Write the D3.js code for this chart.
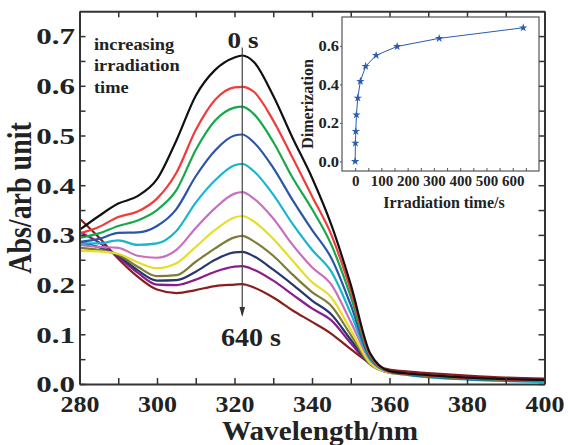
<!DOCTYPE html>
<html>
<head>
<meta charset="utf-8">
<script src="https://cdn.jsdelivr.net/npm/d3@7"></script>
<style>
  body { margin: 0; background: #fff; }
  text { font-family: "Liberation Serif", "Times New Roman", serif; font-weight: bold; fill: #222; }
</style>
</head>
<body>
<svg id="chart" width="568" height="445"></svg>
<script>
// wavelengths (nm) at which the spectra were read
const wavelengths = [280, 285, 290, 295, 300, 305, 310, 315, 320, 322, 325, 330, 335, 340, 345, 350, 355, 360, 365, 370, 380, 390, 400];

// absorbance for each irradiation time
const abs0s   = [0.310, 0.338, 0.363, 0.378, 0.412, 0.490, 0.580, 0.632, 0.657, 0.661, 0.648, 0.580, 0.495, 0.415, 0.320, 0.200, 0.062, 0.026, 0.021, 0.018, 0.013, 0.010, 0.008];
const abs1s   = [0.303, 0.316, 0.336, 0.347, 0.373, 0.425, 0.511, 0.572, 0.597, 0.598, 0.588, 0.530, 0.455, 0.378, 0.300, 0.189, 0.058, 0.025, 0.020, 0.017, 0.012, 0.009, 0.007];
const abs2_5s = [0.294, 0.303, 0.318, 0.329, 0.350, 0.390, 0.471, 0.530, 0.556, 0.558, 0.543, 0.487, 0.415, 0.352, 0.280, 0.176, 0.055, 0.025, 0.020, 0.016, 0.011, 0.008, 0.006];
const abs5s   = [0.286, 0.292, 0.304, 0.305, 0.318, 0.352, 0.418, 0.470, 0.500, 0.502, 0.486, 0.435, 0.370, 0.310, 0.253, 0.159, 0.052, 0.025, 0.019, 0.015, 0.010, 0.007, 0.006];
const abs10s  = [0.283, 0.283, 0.289, 0.280, 0.283, 0.308, 0.365, 0.410, 0.440, 0.443, 0.428, 0.381, 0.322, 0.270, 0.226, 0.142, 0.050, 0.024, 0.018, 0.014, 0.009, 0.006, 0.004];
const abs20s  = [0.280, 0.276, 0.274, 0.258, 0.254, 0.270, 0.314, 0.354, 0.383, 0.386, 0.373, 0.333, 0.280, 0.235, 0.200, 0.125, 0.048, 0.024, 0.019, 0.015, 0.010, 0.007, 0.005];
const abs40s  = [0.268, 0.267, 0.262, 0.245, 0.233, 0.243, 0.276, 0.310, 0.335, 0.338, 0.327, 0.292, 0.248, 0.205, 0.174, 0.109, 0.042, 0.023, 0.018, 0.014, 0.010, 0.008, 0.006];
const abs80s  = [0.274, 0.270, 0.260, 0.236, 0.217, 0.219, 0.246, 0.273, 0.295, 0.298, 0.287, 0.258, 0.220, 0.185, 0.157, 0.099, 0.040, 0.023, 0.019, 0.015, 0.011, 0.008, 0.007];
const abs160s = [0.285, 0.275, 0.258, 0.229, 0.208, 0.209, 0.226, 0.250, 0.265, 0.266, 0.257, 0.230, 0.200, 0.168, 0.140, 0.089, 0.040, 0.023, 0.019, 0.016, 0.011, 0.008, 0.007];
const abs320s = [0.306, 0.285, 0.256, 0.224, 0.200, 0.199, 0.210, 0.226, 0.236, 0.237, 0.230, 0.208, 0.180, 0.152, 0.128, 0.082, 0.040, 0.025, 0.020, 0.017, 0.013, 0.010, 0.008];
const abs640s = [0.333, 0.295, 0.252, 0.216, 0.190, 0.183, 0.189, 0.197, 0.200, 0.201, 0.194, 0.174, 0.148, 0.125, 0.101, 0.070, 0.042, 0.029, 0.025, 0.022, 0.017, 0.013, 0.011];

const spectra = [abs0s, abs1s, abs2_5s, abs5s, abs10s, abs20s, abs40s, abs80s, abs160s, abs320s, abs640s];
const colors = ["#111111", "#f23c3c", "#16a84a", "#2b55a8", "#16b6cb", "#c86fbf", "#e6df2a", "#7d7d38", "#27366e", "#8c1c8c", "#8a1e1e"];

// inset: dimerization vs irradiation time
const times = [0, 1, 2.5, 5, 10, 20, 40, 80, 160, 320, 640];
const dimerization = [0, 0.095, 0.156, 0.242, 0.329, 0.416, 0.494, 0.551, 0.597, 0.639, 0.694];

const xTicks = [280, 300, 320, 340, 360, 380, 400];
const yTicks = [0, 0.1, 0.2, 0.3, 0.4, 0.5, 0.6, 0.7];

const svg = d3.select('#chart');
const frameColor = "#333";

// ---- main plot ----
const x = d3.scaleLinear().domain([280, 400]).range([79.5, 544.5]);
const y = d3.scaleLinear().domain([0, 0.75]).range([384, 11.25]);

svg.append("defs").append("clipPath").attr("id", "clip")
    .append("rect").attr("x", x(280)).attr("y", y(0.75))
    .attr("width", x(400) - x(280)).attr("height", y(0) - y(0.75));

const line = d3.line()
    .x((d, i) => x(wavelengths[i]))
    .y(d => y(d))
    .curve(d3.curveMonotoneX);

const curves = svg.append("g").attr("clip-path", "url(#clip)");
// draw last series first so the 0 s curve sits on top
for (let k = spectra.length - 1; k >= 0; k--) {
    curves.append("path")
        .attr("d", line(spectra[k]))
        .attr("fill", "none")
        .attr("stroke", colors[k])
        .attr("stroke-width", 2.2)
        .attr("stroke-linejoin", "round");
}

// axes with inward ticks on all four sides
const minorX = d3.range(280, 401, 10);
const minorY = d3.range(0, 0.751, 0.05);

function styleAxis(g) {
    g.select(".domain").attr("stroke", frameColor).attr("stroke-width", 2);
    g.selectAll(".tick line").attr("stroke", frameColor).attr("stroke-width", 1.5);
}

const axBottom = svg.append("g").attr("transform", "translate(0," + y(0) + ")")
    .call(d3.axisBottom(x).tickValues(minorX).tickSize(-6).tickSizeOuter(0)
        .tickFormat(d => xTicks.includes(d) ? d : ""));
styleAxis(axBottom);
axBottom.selectAll(".tick text")
    .attr("y", 28).attr("dy", 0)
    .attr("transform", "scale(1.13,1)")
    .style("font-size", "23px").attr("fill", "#222");

const axTop = svg.append("g").attr("transform", "translate(0," + y(0.75) + ")")
    .call(d3.axisTop(x).tickValues(minorX).tickSize(-6).tickSizeOuter(0).tickFormat(""));
styleAxis(axTop);

const axLeft = svg.append("g").attr("transform", "translate(" + x(280) + ",0)")
    .call(d3.axisLeft(y).tickValues(minorY.slice(0, -1)).tickSize(-6).tickSizeOuter(0)
        .tickFormat(d => yTicks.some(t => Math.abs(t - d) < 1e-6) ? d3.format(".1f")(d) : ""));
styleAxis(axLeft);
axLeft.selectAll(".tick text")
    .attr("x", 0).attr("dy", "0.34em")
    .attr("transform", "translate(-4.5,0) scale(1.35,1)")
    .style("font-size", "23px").attr("fill", "#222");

const axRight = svg.append("g").attr("transform", "translate(" + x(400) + ",0)")
    .call(d3.axisRight(y).tickValues(minorY.slice(0, -1)).tickSize(-6).tickSizeOuter(0).tickFormat(""));
styleAxis(axRight);

svg.selectAll(".tick text").style("font-family", "'Liberation Serif', 'Times New Roman', serif").style("font-weight", "bold");

// axis titles
svg.append("text")
    .attr("transform", "translate(" + ((x(280) + x(400)) / 2 + 8) + ",440) scale(1.08,1)")
    .attr("text-anchor", "middle")
    .style("font-size", "27px")
    .text("Wavelength/nm");

svg.append("text")
    .attr("transform", "translate(31,198) rotate(-90) scale(1,1.18)")
    .attr("text-anchor", "middle")
    .style("font-size", "28px")
    .text("Abs/arb unit");

// arrow and annotations
const ax = x(322);
svg.append("line")
    .attr("x1", ax).attr("x2", ax)
    .attr("y1", y(0.677)).attr("y2", y(0.14))
    .attr("stroke", "#444").attr("stroke-width", 1.2);
const tipY = y(0.135);
svg.append("path")
    .attr("d", "M" + ax + "," + tipY + " L" + (ax - 2.8) + "," + (tipY - 10) + " L" + (ax + 2.8) + "," + (tipY - 10) + " Z")
    .attr("fill", "#333");

svg.append("text")
    .attr("transform", "translate(243,48) scale(1.13,1)")
    .attr("text-anchor", "middle")
    .style("font-size", "24px")
    .text("0 s");

svg.append("text")
    .attr("transform", "translate(251,346) scale(1.08,1)")
    .attr("text-anchor", "middle")
    .style("font-size", "26px")
    .text("640 s");

const note = svg.append("text").style("font-size", "17px")
    .attr("transform", "translate(94,0) scale(1.08,1)");
["increasing", "irradiation", "time"].forEach((t, i) => {
    note.append("tspan").attr("x", 0).attr("y", 50 + i * 21.5).text(t);
});

// ---- inset ----
const ix = d3.scaleLinear().domain([-50, 700]).range([342, 539]);
const iy = d3.scaleLinear().domain([-0.05, 0.75]).range([171, 17]);

svg.append("rect")
    .attr("x", ix(-50)).attr("y", iy(0.75))
    .attr("width", ix(700) - ix(-50)).attr("height", iy(-0.05) - iy(0.75))
    .attr("fill", "#fff").attr("stroke", "#555").attr("stroke-width", 1.2);

const iBottom = svg.append("g").attr("transform", "translate(0," + iy(-0.05) + ")")
    .call(d3.axisBottom(ix).tickValues(d3.range(0, 651, 50)).tickSize(-3).tickSizeOuter(0)
        .tickFormat(d => d % 100 === 0 ? d : ""));
iBottom.select(".domain").remove();
iBottom.selectAll(".tick line").attr("stroke", "#555");
iBottom.selectAll(".tick text")
    .attr("y", 15).attr("dy", 0)
    .style("font-size", "15px").attr("fill", "#222");

const iLeft = svg.append("g").attr("transform", "translate(" + ix(-50) + ",0)")
    .call(d3.axisLeft(iy).tickValues([0, 0.2, 0.4, 0.6]).tickSize(2).tickPadding(2).tickSizeOuter(0)
        .tickFormat(d3.format(".1f")));
iLeft.select(".domain").remove();
iLeft.selectAll(".tick line").attr("stroke", "#555");
iLeft.selectAll(".tick text")
    .attr("x", 0).attr("dy", "0.34em")
    .attr("transform", "translate(-3,0) scale(1.1,1)")
    .style("font-size", "15px").attr("fill", "#222");

svg.selectAll(".tick text").style("font-family", "'Liberation Serif', 'Times New Roman', serif").style("font-weight", "bold");

svg.append("text")
    .attr("x", 444).attr("y", 208)
    .attr("text-anchor", "middle")
    .style("font-size", "16px")
    .text("Irradiation time/s");

svg.append("text")
    .attr("transform", "translate(313,104) rotate(-90) scale(1,1.1)")
    .attr("text-anchor", "middle")
    .style("font-size", "16px")
    .text("Dimerization");

const iLine = d3.line().x((d, i) => ix(times[i])).y(d => iy(d));
svg.append("path")
    .attr("d", iLine(dimerization))
    .attr("fill", "none").attr("stroke", "#2a5cb0").attr("stroke-width", 1);

svg.append("g").selectAll("path")
    .data(dimerization)
    .join("path")
    .attr("transform", (d, i) => "translate(" + ix(times[i]) + "," + iy(d) + ")")
    .attr("d", d3.symbol(d3.symbolStar, 22))
    .attr("fill", "#2a5cb0");
</script>
</body>
</html>
